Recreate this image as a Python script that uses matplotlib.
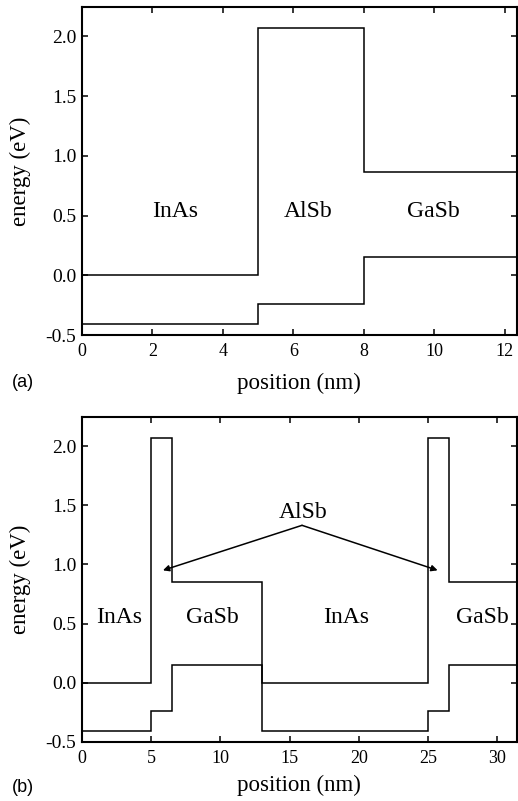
import matplotlib
matplotlib.use("Agg")
from matplotlib import pyplot as plt

plt.rcParams["font.family"] = ["Liberation Serif", "DejaVu Serif"]
plt.rcParams["axes.unicode_minus"] = False

# panel (a): InAs / AlSb / GaSb
a_edges = [0, 5, 8, 12.5]
a_cb = [0.0, 2.07, 0.86]
a_vb = [-0.41, -0.24, 0.15]
a_labels = ["InAs", "AlSb", "GaSb"]
a_label_x = [2.63, 6.43, 9.97]
a_label_y = 0.53

# panel (b): InAs / AlSb / GaSb / AlSb / InAs / AlSb / GaSb
b_edges = [0, 5, 6.5, 13, 25, 26.5, 32]
b_cb = [0.0, 2.07, 0.855, 0.0, 2.07, 0.855]
b_vb = [-0.41, -0.24, 0.15, -0.41, -0.24, 0.15]
b_labels = ["InAs", "GaSb", "InAs", "GaSb"]
b_label_x = [2.65, 9.4, 19.1, 28.9]
b_label_y = 0.55
alsb_text = (16.0, 1.44)
alsb_apex = (15.9, 1.33)
alsb_tips = [(5.85, 0.95), (25.7, 0.95)]

W, H = 518, 801
fig = plt.figure(figsize=(W / 100, H / 100), dpi=100)


def style_axes(ax, xlim, xticks, xlab_y):
    ax.set_xlim(*xlim)
    ax.set_ylim(-0.5, 2.245)
    ax.set_xticks(xticks)
    ax.set_yticks([-0.5, 0.0, 0.5, 1.0, 1.5, 2.0])
    ax.set_yticklabels(["-0.5", "0.0", "0.5", "1.0", "1.5", "2.0"])
    ax.tick_params(direction="in", top=True, right=True, length=4,
                   width=1.1, pad=4)
    ax.tick_params(axis="x", labelsize=13, pad=6)
    ax.tick_params(axis="y", labelsize=14)
    for sp in ax.spines.values():
        sp.set_linewidth(1.5)
    ax.set_xlabel("position (nm)", fontsize=16.5, va="center")
    ax.set_ylabel("energy (eV)", fontsize=16.5, va="center")
    ax.xaxis.set_label_coords(0.5, xlab_y)
    ax.yaxis.set_label_coords(-0.1427, 0.5)


ax1 = fig.add_axes([82 / W, 1 - 335 / H, 434.5 / W, 328 / H])
ax1.stairs(a_cb, a_edges, baseline=None, color="k", lw=1.1)
ax1.stairs(a_vb, a_edges, baseline=None, color="k", lw=1.1)
for name, x in zip(a_labels, a_label_x):
    ax1.text(x, a_label_y, name, ha="center", va="center", fontsize=17)
style_axes(ax1, (0, 12.33), [0, 2, 4, 6, 8, 10, 12], (335 - 383) / 328)

ax2 = fig.add_axes([82 / W, 1 - 742 / H, 434.5 / W, 325 / H])
ax2.stairs(b_cb, b_edges, baseline=None, color="k", lw=1.1)
ax2.stairs(b_vb, b_edges, baseline=None, color="k", lw=1.1)
for name, x in zip(b_labels, b_label_x):
    ax2.text(x, b_label_y, name, ha="center", va="center", fontsize=17)
ax2.text(alsb_text[0], alsb_text[1], "AlSb", ha="center", va="center",
         fontsize=17)
for tip in alsb_tips:
    ax2.annotate("", xy=tip, xytext=alsb_apex,
                 arrowprops=dict(arrowstyle="-|>", color="k", lw=1.1,
                                 mutation_scale=9, shrinkA=0, shrinkB=0))
style_axes(ax2, (0, 31.4), [0, 5, 10, 15, 20, 25, 30], (742 - 785) / 325)

fig.text(23 / W, 1 - 382 / H, "(a)", ha="center", va="center",
         fontsize=13, family="Liberation Sans")
fig.text(23 / W, 1 - 788 / H, "(b)", ha="center", va="center",
         fontsize=13, family="Liberation Sans")

fig.savefig("out.png", dpi=100)
